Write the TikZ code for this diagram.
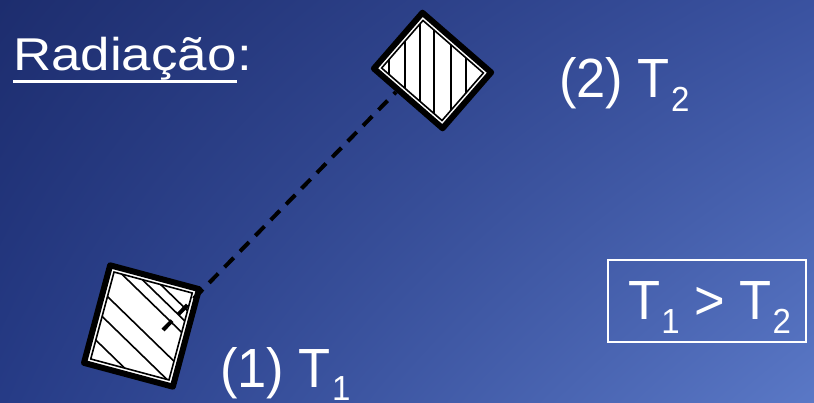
\documentclass[tikz,border=0pt]{standalone}
\usepackage{fontspec}
\setmainfont{Liberation Sans}
\usepackage{graphicx}
\usepackage{tikz}
\usetikzlibrary{shadings}
\definecolor{bgtl}{HTML}{1D2D6E}
\definecolor{bgtr}{HTML}{3A52A0}
\definecolor{bgbl}{HTML}{263B86}
\definecolor{bgbr}{HTML}{5A78C6}
\tikzset{
  frame/.style={draw=black, fill=white, line width=6pt, line join=round},
  rim/.style={draw=black, line width=1.6pt, line join=miter},
  hatch/.style={draw=black, line width=1.6pt},
  link/.style={draw=black, line width=4pt, dash pattern=on 13pt off 9pt},
  uline/.style={draw=white, line width=3pt},
  lab/.style={text=white, inner sep=0pt, anchor=base west, font=\fontsize{46}{50}\selectfont},
  cmpbox/.style={draw=white, line width=1.6pt, minimum width=198pt, minimum height=82pt, inner sep=0pt},
}
\newcommand\lowidx[1]{\hspace{1pt}\raisebox{-11.5pt}{\fontsize{29}{30}\selectfont #1}}
\newcommand\tall[1]{\scalebox{1.14}[1.2]{#1}}
\newcommand\wide[1]{\scalebox{1.15}[1]{#1}}
\begin{document}
\begin{tikzpicture}[x=1pt,y=1pt]
  \useasboundingbox (0,0) rectangle (814,402);
  \shade[upper left=bgtl, upper right=bgtr, lower left=bgbl, lower right=bgbr] (0,0) rectangle (814,402);
  % body 1, lower left
  \begin{scope}[shift={(141.5,76)}, rotate=-15]
    \coordinate (q1a) at (-46,-50.5);
    \coordinate (q1b) at (46,-50.5);
    \coordinate (q1c) at (46,50.5);
    \coordinate (q1d) at (-46,50.5);
    \coordinate (p1a) at (-40.5,-45);
    \coordinate (p1b) at (40.5,-45);
    \coordinate (p1c) at (40.5,45);
    \coordinate (p1d) at (-40.5,45);
  \end{scope}
  \draw[frame] (q1a) -- (q1b) -- (q1c) -- (q1d) -- cycle;
  \draw[rim] (p1a) -- (p1b) -- (p1c) -- (p1d) -- cycle;
  \begin{scope}
    \clip (p1a) -- (p1b) -- (p1c) -- (p1d) -- cycle;
    \foreach \x/\y in {115/132,135/127,150/125.3,106.7/103.7,105/80.3,101.7/53.7}
      \draw[hatch] (\x,\y) ++(-90,90) -- ++(180,-175);
  \end{scope}
  % body 2, upper
  \begin{scope}[shift={(432.5,331.5)}, rotate=-41]
    \coordinate (q2a) at (-45.5,-37);
    \coordinate (q2b) at (45.5,-37);
    \coordinate (q2c) at (45.5,37);
    \coordinate (q2d) at (-45.5,37);
    \coordinate (p2a) at (-40,-31.5);
    \coordinate (p2b) at (40,-31.5);
    \coordinate (p2c) at (40,31.5);
    \coordinate (p2d) at (-40,31.5);
  \end{scope}
  \draw[frame] (q2a) -- (q2b) -- (q2c) -- (q2d) -- cycle;
  \draw[rim] (p2a) -- (p2b) -- (p2c) -- (p2d) -- cycle;
  \begin{scope}
    \clip (p2a) -- (p2b) -- (p2c) -- (p2d) -- cycle;
    \foreach \x in {389,405,420,434,451,466}
      \draw[hatch] (\x,250) -- (\x,410);
  \end{scope}
  % radiation path
  \coordinate (e1) at (163,72);
  \coordinate (e2) at (396,310);
  \draw[link] (e1) -- (e2);
  % labels
  \node[lab] (rad) at (13,331) {\wide{Radiação}};
  \node[lab] (colon) at (rad.base east) {\wide{:}};
  \draw[uline] ([yshift=-11pt]rad.base west) -- ([yshift=-11pt]rad.base east);
  \node[lab] (t2) at (559,304) {\tall{(2) T\lowidx{2}}};
  \node[lab] (t1) at (220,15) {\tall{(1) T\lowidx{1}}};
  \node[cmpbox] (cmp) at (707,101) {};
  \node[lab] (cmptxt) at (628,82) {\tall{T\lowidx{1} > T\lowidx{2}}};
\end{tikzpicture}
\end{document}
